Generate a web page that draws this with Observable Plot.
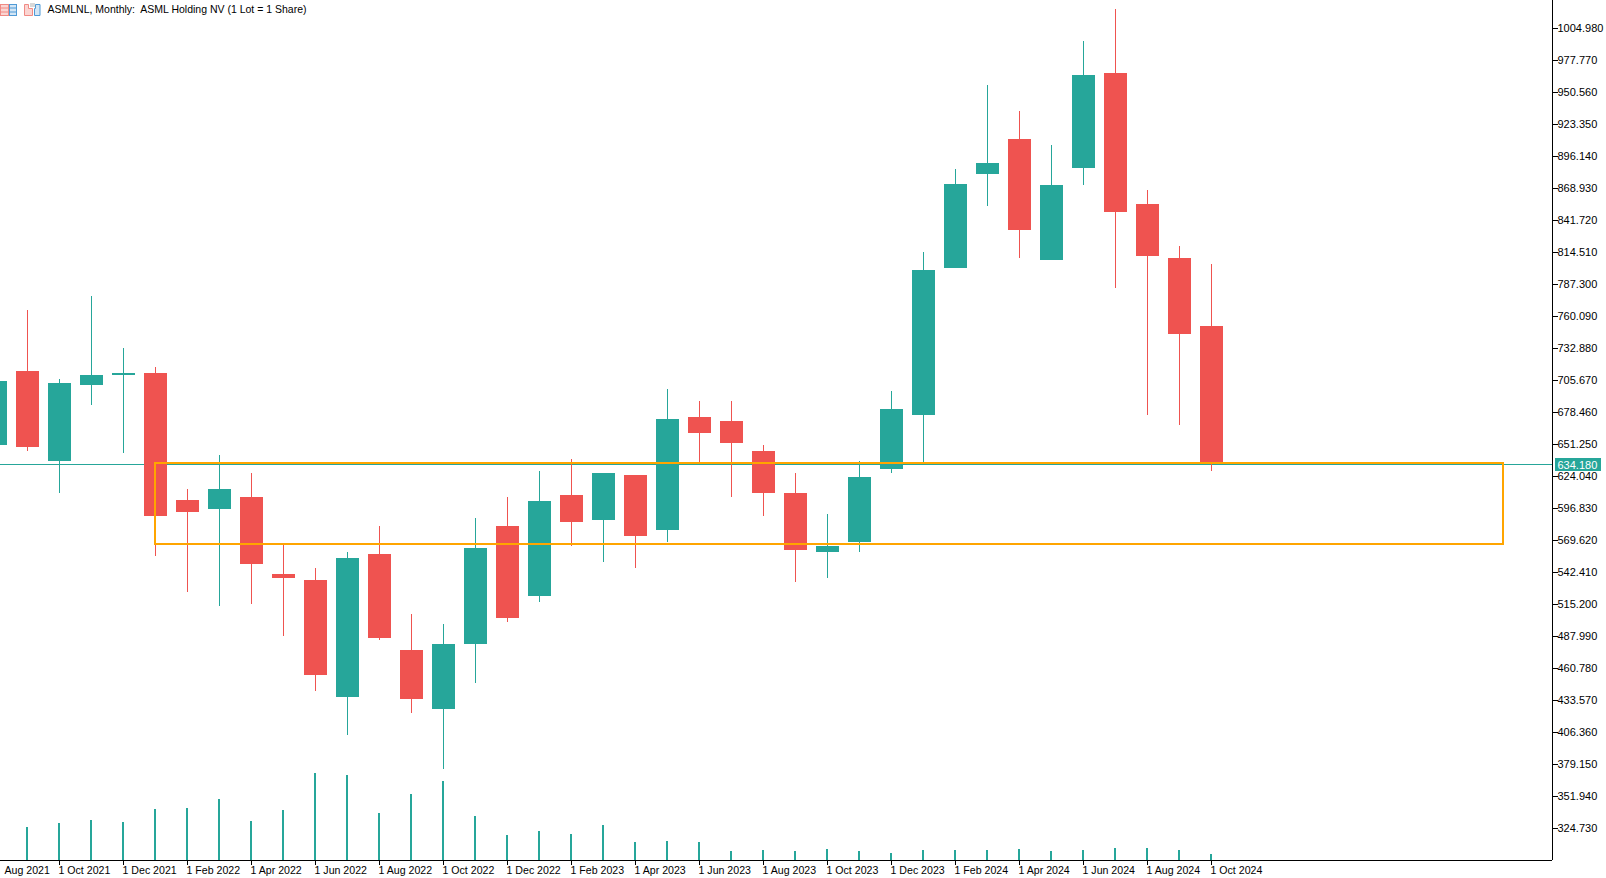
<!DOCTYPE html>
<html>
<head>
<meta charset="utf-8">
<script src="https://cdn.jsdelivr.net/npm/d3@7"></script>
<script src="https://cdn.jsdelivr.net/npm/@observablehq/plot@0.6"></script>
<style>
html,body{margin:0;padding:0;background:#fff;overflow:hidden}
#wrap{position:relative;width:1606px;height:878px}
#wrap svg{display:block}
#icons{position:absolute;left:0;top:3px}
</style>
</head>
<body>
<div id="wrap">
<div id="chart"></div>
<svg id="icons" width="42" height="14" viewBox="0 0 42 14">
  <rect x="0.5" y="1.5" width="8" height="11" fill="#fbd5d2" stroke="#f08a84"/>
  <path d="M1 5h7M1 9h7" stroke="#f08a84"/>
  <rect x="9.5" y="1.5" width="7" height="11" fill="#d3e6f5" stroke="#4f9ad6"/>
  <path d="M10 5h6M10 9h6" stroke="#4f9ad6"/>
  <path d="M24.5 1.5h4v4h4v7h-8z" fill="#fbd5d2" stroke="#f08a84"/>
  <path d="M34.5 5.5h1v-4h4.500v11h-5.500z" fill="#d3e6f5" stroke="#4f9ad6"/>
  <rect x="30" y="0" width="5" height="4" fill="#d8d8d8"/>
</svg>
</div>
<script>
const title = "ASMLNL, Monthly:  ASML Holding NV (1 Lot = 1 Share)";
const lastPrice = 634.18;
const opens = [650.8,713.7,636.4,701.0,709.5,712.0,604.0,596.4,606.6,540.3,536.0,436.5,558.1,476.5,425.5,481.6,581.9,522.4,607.5,586.2,624.5,578.5,674.6,670.4,644.9,609.2,559.0,567.5,629.6,676.3,800.5,881.2,910.2,808.1,886.3,967.1,855.7,809.8,751.2];
const closes = [705.2,649.1,702.7,709.5,711.2,589.6,593.0,612.6,548.8,537.7,454.4,553.9,485.9,434.8,480.8,563.2,502.9,603.2,585.3,626.2,572.6,672.1,661.0,651.7,610.0,560.7,564.9,622.8,681.4,798.8,872.7,890.6,832.8,871.9,965.4,848.9,811.5,745.2,634.18];
const highs = [705.2,764.8,706.9,777.5,733.3,717.1,612.6,642.3,627.0,566.6,545.4,559.8,581.1,506.3,497.8,588.7,605.8,628.7,638.9,627.0,624.5,698.4,688.2,687.4,650.8,627.0,592.1,637.2,696.7,814.1,885.5,956.9,934.0,905.1,993.5,1021.5,867.6,820.0,803.9];
const lows = [650.8,645.7,610.0,684.8,644.0,555.6,525.8,513.1,514.8,487.6,441.6,403.4,484.2,422.1,375.3,448.4,499.5,517.3,564.9,551.3,545.4,567.5,634.7,606.6,589.6,534.3,537.7,559.0,627.0,635.5,800.5,854.0,809.8,807.3,871.9,784.3,675.5,667.8,628.7];
const volumes = [30,33,37,40,38,51,52,61,39,50,87,85,47,66,79,44,25,29,26,35,18,19,18,9,10,9,11,9,7,10,10,10,11,9,10,12,12,10,6];
const monthTicks = [2,4,6,8,10,12,14,16,18,20,22,24,26,28,30,32,34,36,38];
const monthLabels = ["1 Oct 2021","1 Dec 2021","1 Feb 2022","1 Apr 2022","1 Jun 2022","1 Aug 2022","1 Oct 2022","1 Dec 2022","1 Feb 2023","1 Apr 2023","1 Jun 2023","1 Aug 2023","1 Oct 2023","1 Dec 2023","1 Feb 2024","1 Apr 2024","1 Jun 2024","1 Aug 2024","1 Oct 2024"];
const firstLabel = "Aug 2021";
const priceTicks = [1004.98,977.77,950.56,923.35,896.14,868.93,841.72,814.51,787.30,760.09,732.88,705.67,678.46,651.25,624.04,596.83,569.62,542.41,515.20,487.99,460.78,433.57,406.36,379.15,351.94,324.73];
const zone = {x1:5, x2:47.125, top:635.5, bottom:566.6};

const UP = "#26A69A", DOWN = "#EF5350", ZONE = "#FFA500";
const yMin = 297.94, yMax = 1029.21, unit = (yMax - yMin) / 860;
const rows = opens.map((o,i)=>({i,o,c:closes[i],h:highs[i],l:lows[i],v:volumes[i],color:closes[i]>=o?UP:DOWN}));
const crisp = {shapeRendering:"crispEdges"};
const pxI = 1/32;
const dateSize = 10.6;

const chart = Plot.plot({
  width:1606, height:878,
  marginLeft:0, marginRight:54, marginTop:0, marginBottom:18,
  style:{fontFamily:"'Liberation Sans',Arial,sans-serif",fontSize:"11px",background:"#fff",color:"#000",overflow:"hidden"},
  x:{type:"linear",domain:[5*pxI,1557*pxI]},
  y:{type:"linear",domain:[yMin,yMax]},
  marks:[
    Plot.ruleY([lastPrice],{x1:5*pxI,x2:1557*pxI,stroke:UP,strokeWidth:1,dy:-0.5,...crisp}),
    Plot.ruleX(rows,{x:"i",y1:yMin,y2:d=>yMin+d.v*unit,stroke:UP,strokeWidth:2,dx:-0.5,...crisp}),
    Plot.ruleX(rows,{x:"i",y1:"l",y2:"h",stroke:"color",strokeWidth:1,dy:-0.5,...crisp}),
    Plot.rect(rows,{x1:d=>d.i-11*pxI,x2:d=>d.i+12*pxI,y1:"o",y2:"c",fill:"color",dy:-0.5,...crisp}),
    Plot.rect([zone],{x1:"x1",x2:"x2",y1:"bottom",y2:"top",fill:"none",stroke:ZONE,strokeWidth:2,dy:-0.5,...crisp}),
    Plot.ruleX([1557*pxI],{y1:yMin,y2:yMax,stroke:"#000",strokeWidth:1,...crisp}),
    Plot.ruleY([yMin],{x1:5*pxI,x2:1557*pxI,stroke:"#000",strokeWidth:1,...crisp}),
    Plot.axisX({anchor:"bottom",ticks:monthTicks,tickFormat:()=>"",tickSize:5,label:null,stroke:"#000",...crisp}),
    Plot.axisX({anchor:"bottom",ticks:monthTicks,tickFormat:d=>monthLabels[monthTicks.indexOf(d)],tickSize:0,tickPadding:6,textAnchor:"start",label:null,lineAnchor:"top",fill:"#000",fontSize:dateSize,dx:-1}),
    Plot.text([firstLabel],{frameAnchor:"bottom-left",dx:4,dy:6,text:d=>d,textAnchor:"start",lineAnchor:"top",fill:"#000",fontSize:dateSize}),
    Plot.axisY({anchor:"right",ticks:priceTicks,tickFormat:d=>d.toFixed(3),tickSize:5,tickPadding:0,label:null,stroke:"#000",fill:"#000",dy:-0.5,...crisp}),
    Plot.rect([lastPrice],{x1:1560*pxI,x2:1606*pxI,y1:d=>d-6.5*unit,y2:d=>d+6.5*unit,fill:UP,...crisp}),
    Plot.text([lastPrice],{x:1562*pxI,y:d=>d,text:d=>d.toFixed(3),textAnchor:"start",fill:"#fff",fontSize:11}),
    Plot.text([title],{frameAnchor:"top-left",dx:47,dy:5,text:d=>d,textAnchor:"start",lineAnchor:"top",fill:"#000",fontSize:10.5})
  ]
});
document.getElementById("chart").appendChild(chart);
</script>
</body>
</html>
